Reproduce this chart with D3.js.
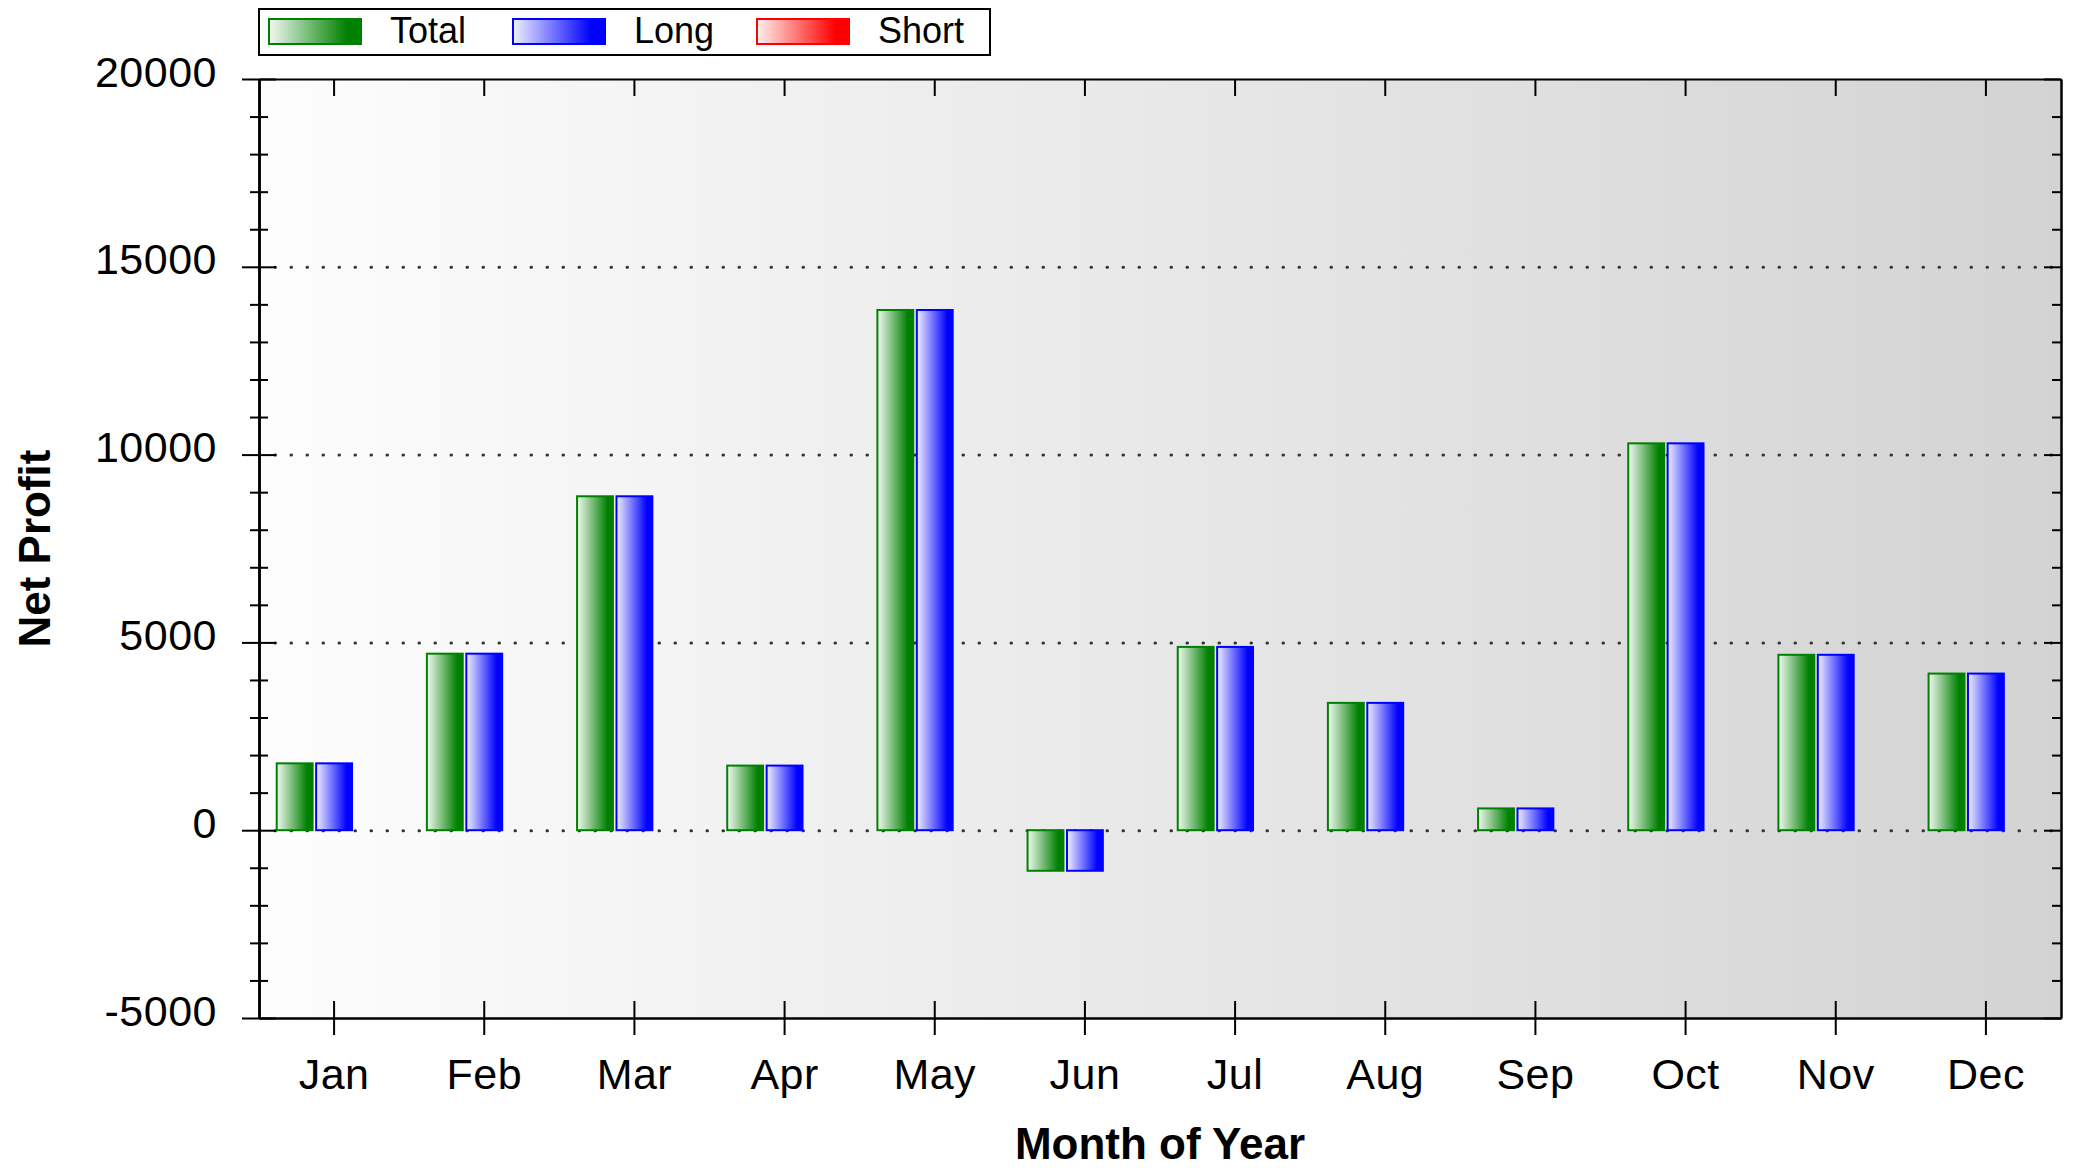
<!DOCTYPE html>
<html>
<head>
<meta charset="utf-8">
<script src="https://cdn.jsdelivr.net/npm/d3@7"></script>
<style>
    body { margin: 0; background: #fff; }
    svg { display: block; font-family: "Liberation Sans", Arial, sans-serif; }
    .axis path, .axis line { stroke: #000; stroke-width: 2; fill: none; }
    .axis text { font-size: 43px; fill: #000; letter-spacing: 0.5px; }
    .grid line { stroke: #333; stroke-width: 3; stroke-linecap: round; stroke-dasharray: 0.5 15.5; }
    .grid path { display: none; }
</style>
</head>
<body>
<svg id="chart"></svg>
<script>
// Net profit by month
const months = ['Jan', 'Feb', 'Mar', 'Apr', 'May', 'Jun', 'Jul', 'Aug', 'Sep', 'Oct', 'Nov', 'Dec'];
const totalProfit = [1780, 4700, 8890, 1720, 13850, -1080, 4880, 3390, 580, 10300, 4670, 4170];
const longProfit = [1780, 4700, 8890, 1720, 13850, -1080, 4880, 3390, 580, 10300, 4670, 4170];
const shortProfit = [0, 0, 0, 0, 0, 0, 0, 0, 0, 0, 0, 0];
const seriesNames = ['Total', 'Long', 'Short'];
const yDomain = [-5000, 20000];
const yMajorTicks = [-5000, 0, 5000, 10000, 15000, 20000];
const yGridTicks = [0, 5000, 10000, 15000];

const COLORS = {
    Total: { stroke: '#008000', light: '#f2f9f2', dark: '#008000' },
    Long: { stroke: '#0000ff', light: '#f0f0ff', dark: '#0000ff' },
    Short: { stroke: '#ff0000', light: '#fff0f0', dark: '#ff0000' }
};

const Chart = {
    svg: null,
    width: 0,
    height: 0,
    margin: { top: 79, right: 15, bottom: 150, left: 259 },

    render() {
        const W = 2076, H = 1168;
        this.width = W - this.margin.left - this.margin.right;
        this.height = H - this.margin.top - this.margin.bottom;

        const root = d3.select('#chart').attr('width', W).attr('height', H);
        this.root = root;
        this.defs = root.append('defs');
        this.makeGradients();

        this.svg = root.append('g')
            .attr('transform', `translate(${this.margin.left},${this.margin.top})`);

        this.x = d3.scaleBand().domain(months).range([0, this.width]);
        this.x1 = d3.scaleBand().domain(seriesNames)
            .range([0, this.x.bandwidth()])
            .paddingInner(0.09)
            .paddingOuter(0.45);
        this.y = d3.scaleLinear().domain(yDomain).range([this.height, 0]);

        // plot background
        this.svg.append('rect')
            .attr('width', this.width)
            .attr('height', this.height)
            .attr('fill', 'url(#grad-bg)');

        this.drawGrid();
        this.drawBars();
        this.drawAxes();
        this.drawTitles();
        this.drawLegend();
    },

    makeGradients() {
        const bg = this.defs.append('linearGradient').attr('id', 'grad-bg');
        bg.append('stop').attr('offset', '0%').attr('stop-color', '#fdfdfd');
        bg.append('stop').attr('offset', '100%').attr('stop-color', '#d3d3d3');

        seriesNames.forEach(name => {
            const g = this.defs.append('linearGradient').attr('id', `grad-${name}`);
            g.append('stop').attr('offset', '0%').attr('stop-color', COLORS[name].light);
            g.append('stop').attr('offset', '85%').attr('stop-color', COLORS[name].dark);
            g.append('stop').attr('offset', '100%').attr('stop-color', COLORS[name].dark);
        });
    },

    drawGrid() {
        this.svg.append('g')
            .attr('class', 'grid')
            .call(d3.axisLeft(this.y)
                .tickValues(yGridTicks)
                .tickSize(-this.width)
                .tickFormat(''));
    },

    drawBars() {
        const rows = months.map((m, i) => ({
            month: m,
            values: [
                { key: 'Total', value: totalProfit[i] },
                { key: 'Long', value: longProfit[i] },
                { key: 'Short', value: shortProfit[i] }
            ]
        }));

        const group = this.svg.selectAll('.month-group')
            .data(rows)
            .enter()
            .append('g')
            .attr('class', 'month-group')
            .attr('transform', d => `translate(${this.x(d.month)},0)`);

        group.selectAll('rect')
            .data(d => d.values.filter(v => v.value !== 0))
            .enter()
            .append('rect')
            .attr('x', d => this.x1(d.key))
            .attr('y', d => this.y(Math.max(0, d.value)))
            .attr('width', this.x1.bandwidth())
            .attr('height', d => Math.abs(this.y(d.value) - this.y(0)))
            .attr('fill', d => `url(#grad-${d.key})`)
            .attr('stroke', d => COLORS[d.key].stroke)
            .attr('stroke-width', 2);
    },

    drawAxes() {
        const minorTicks = this.y.ticks(25).filter(d => d % 5000 !== 0);
        const y = this.y, x = this.x;

        // left axis, labels plus ticks crossing the line
        const left = this.svg.append('g')
            .attr('class', 'axis')
            .call(d3.axisLeft(y)
                .tickValues(yMajorTicks)
                .tickSize(17)
                .tickSizeOuter(0)
                .tickPadding(25)
                .tickFormat(d => String(d)));
        left.selectAll('text').attr('dy', '7px');

        this.svg.append('g').attr('class', 'axis')
            .call(d3.axisRight(y).tickValues(yMajorTicks).tickSize(17).tickSizeOuter(0).tickFormat(''));
        this.svg.append('g').attr('class', 'axis')
            .call(d3.axisLeft(y).tickValues(minorTicks).tickSize(9).tickSizeOuter(0).tickFormat(''));
        this.svg.append('g').attr('class', 'axis')
            .call(d3.axisRight(y).tickValues(minorTicks).tickSize(9).tickSizeOuter(0).tickFormat(''));

        // right frame, ticks pointing inward
        this.svg.append('g').attr('class', 'axis')
            .attr('transform', `translate(${this.width},0)`)
            .call(d3.axisLeft(y).tickValues(yMajorTicks).tickSize(17).tickSizeOuter(0).tickFormat(''));
        this.svg.append('g').attr('class', 'axis')
            .attr('transform', `translate(${this.width},0)`)
            .call(d3.axisLeft(y).tickValues(minorTicks).tickSize(9).tickSizeOuter(0).tickFormat(''));

        // bottom axis with month labels
        this.svg.append('g').attr('class', 'axis')
            .attr('transform', `translate(0,${this.height})`)
            .call(d3.axisBottom(x).tickSize(17).tickSizeOuter(0).tickPadding(23));
        this.svg.append('g').attr('class', 'axis')
            .attr('transform', `translate(0,${this.height})`)
            .call(d3.axisTop(x).tickSize(17).tickSizeOuter(0).tickFormat(''));

        // top frame, ticks pointing down
        this.svg.append('g').attr('class', 'axis')
            .call(d3.axisBottom(x).tickSize(17).tickSizeOuter(0).tickFormat(''));
    },

    drawTitles() {
        this.root.append('text')
            .attr('x', this.margin.left + this.width / 2)
            .attr('y', 1159)
            .attr('text-anchor', 'middle')
            .attr('font-size', '44px')
            .attr('font-weight', 'bold')
            .text('Month of Year');

        this.root.append('text')
            .attr('transform', `translate(50,${this.margin.top + this.height / 2}) rotate(-90)`)
            .attr('text-anchor', 'middle')
            .attr('font-size', '44px')
            .attr('font-weight', 'bold')
            .text('Net Profit');
    },

    drawLegend() {
        const legend = this.root.append('g').attr('class', 'legend');

        legend.append('rect')
            .attr('x', 259)
            .attr('y', 9)
            .attr('width', 731)
            .attr('height', 46)
            .attr('fill', '#fff')
            .attr('stroke', '#000')
            .attr('stroke-width', 2);

        const item = legend.selectAll('.legend-item')
            .data(seriesNames)
            .enter()
            .append('g')
            .attr('class', 'legend-item')
            .attr('transform', (d, i) => `translate(${269 + i * 244},0)`);

        item.append('rect')
            .attr('x', 0)
            .attr('y', 19)
            .attr('width', 92)
            .attr('height', 25)
            .attr('fill', d => `url(#grad-${d})`)
            .attr('stroke', d => COLORS[d].stroke)
            .attr('stroke-width', 2);

        item.append('text')
            .attr('x', 121)
            .attr('y', 43)
            .attr('font-size', '36px')
            .attr('fill', '#000')
            .text(d => d);
    }
};

Chart.render();
</script>
</body>
</html>
